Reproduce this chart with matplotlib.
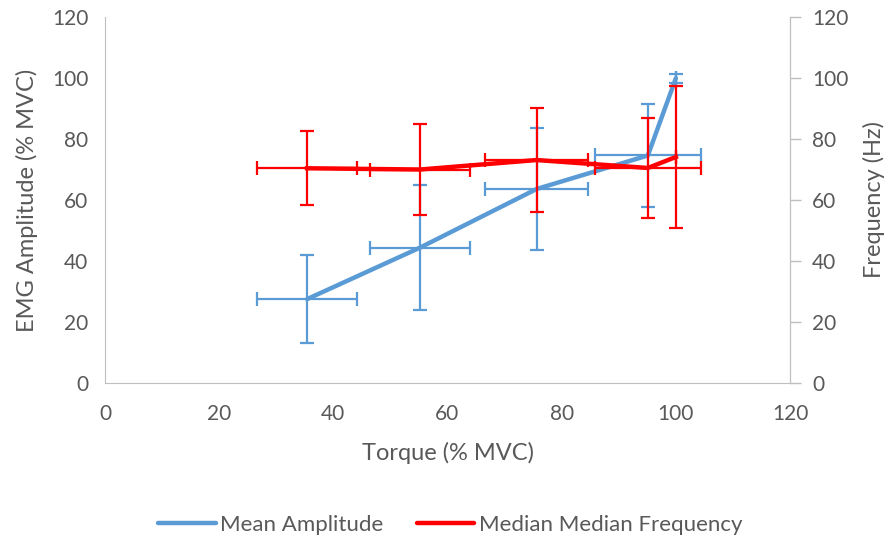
import matplotlib
matplotlib.use("Agg")
import matplotlib.pyplot as plt
from matplotlib.lines import Line2D

plt.rcParams['font.family'] = ['Lato', 'DejaVu Sans']

torque = [35.4, 55.2, 75.6, 95.1, 100.0]
torque_err = [8.7, 8.8, 9.0, 9.3, 0.0]
amp = [27.5, 44.4, 63.6, 74.6, 99.9]
amp_err = [14.5, 20.6, 20.1, 17.0, 1.5]

freq_torque_err = [8.7, 8.8, 9.0, 9.3, 0.0]
freq = [70.4, 70.0, 73.1, 70.5, 74.1]
freq_err = [12.2, 15.0, 17.0, 16.5, 23.3]

blue = '#5B9BD5'
red = '#FF0000'
grey = '#595959'
spine = '#BFBFBF'

fig = plt.figure(figsize=(8.89, 5.40), dpi=100)
ax = fig.add_axes([105/889, 1-383/540, 685/889, 366/540])
ax2 = ax.twinx()

ax.errorbar(torque, amp, xerr=torque_err, yerr=amp_err, color=blue, lw=3.2,
            elinewidth=1.6, capsize=5, capthick=1.6, solid_capstyle='round', zorder=2)
ax2.errorbar(torque, freq, xerr=freq_torque_err, yerr=freq_err, color=red, lw=3.2,
             elinewidth=1.6, capsize=5, capthick=1.6, zorder=3)

for a in (ax, ax2):
    a.set_ylim(0, 120)
    a.set_yticks(range(0, 121, 20))
    a.spines['top'].set_visible(False)
    for s in a.spines.values():
        s.set_color(spine)
ax.set_xlim(0, 120)
ax.set_xticks(range(0, 121, 20))
ax.tick_params(axis='x', length=0, labelsize=15, labelcolor=grey, pad=15)
ax.tick_params(axis='y', length=0, labelsize=15, labelcolor=grey, pad=12)
ax2.tick_params(axis='y', length=8, width=1, color=spine, direction='out',
                labelsize=15, labelcolor=grey, pad=8)
ax2.spines['left'].set_visible(False)
ax2.spines['bottom'].set_visible(False)

ax.set_xlabel('Torque (% MVC)', fontsize=17, color=grey, labelpad=13)
ax.set_ylabel('EMG Amplitude (% MVC)', fontsize=17, color=grey, labelpad=10)
ax2.set_ylabel('Frequency (Hz)', fontsize=17, color=grey, labelpad=10)

handles = [Line2D([], [], color=blue, lw=3.2, solid_capstyle='round'),
           Line2D([], [], color=red, lw=3.2, solid_capstyle='round')]
fig.legend(handles, ['Mean Amplitude', 'Median Median Frequency'], loc='center',
           bbox_to_anchor=(450/889, 1-525/540), ncol=2, frameon=False,
           fontsize=16, labelcolor=grey, handlelength=2.6, handletextpad=0.2,
           columnspacing=1.5)

fig.savefig('out.png', dpi=100)
